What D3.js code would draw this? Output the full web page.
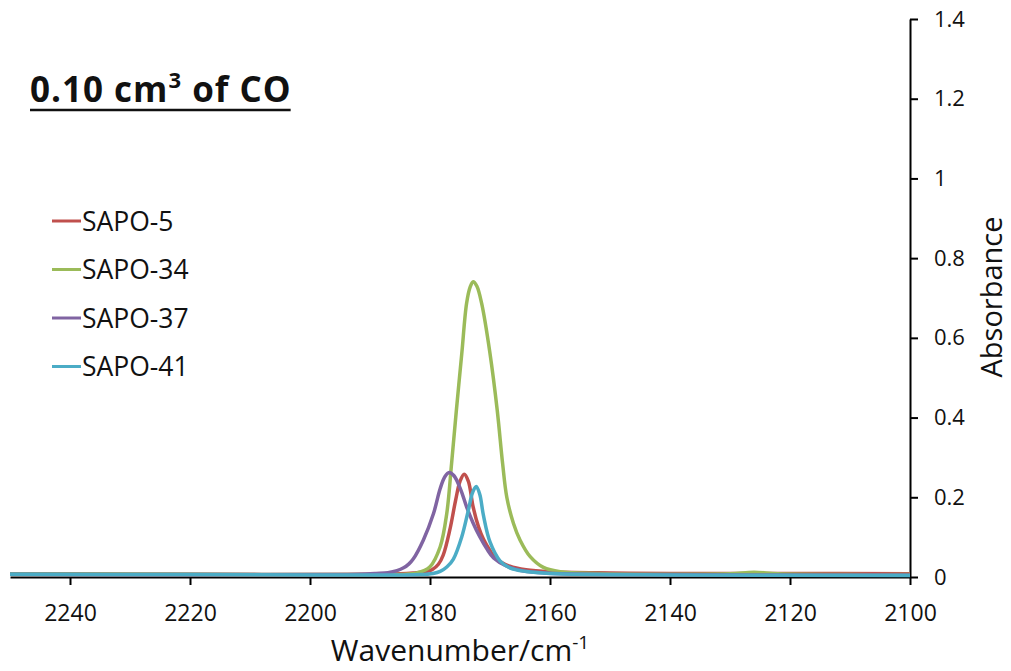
<!DOCTYPE html>
<html>
<head>
<meta charset="utf-8">
<script src="https://cdn.jsdelivr.net/npm/d3@7"></script>
<style>
  html, body { margin: 0; padding: 0; background: #fff; }
  svg { display: block; font-family: "Open Sans", sans-serif; }
</style>
</head>
<body>
<div id="chart"></div>
<script>
const WIDTH = 1011;
const HEIGHT = 671;

// series: [wavenumber, absorbance]
const SAPO_5 = [
  [2250, 0.008], [2230, 0.007], [2210, 0.006], [2195, 0.006], [2188, 0.007],
  [2185, 0.008], [2182.8, 0.010], [2180.8, 0.013], [2179.6, 0.019], [2178.6, 0.032],
  [2177.8, 0.055], [2176.7, 0.118], [2175.7, 0.195], [2175.0, 0.240], [2174.3, 0.258],
  [2173.6, 0.240], [2172.8, 0.175], [2171.9, 0.125], [2171.1, 0.095], [2169.9, 0.064],
  [2168.9, 0.045], [2166.7, 0.027], [2164, 0.018], [2160, 0.013], [2150, 0.010],
  [2140, 0.009], [2120, 0.009], [2100, 0.008]
];
const SAPO_34 = [
  [2250, 0.008], [2220, 0.007], [2200, 0.006], [2188, 0.006], [2184, 0.007],
  [2182.2, 0.010], [2180, 0.026], [2178.3, 0.076], [2177.2, 0.160], [2176.4, 0.285],
  [2175.6, 0.419], [2174.7, 0.561], [2173.9, 0.687], [2173.3, 0.728], [2172.8, 0.741],
  [2172.2, 0.730], [2171.4, 0.687], [2170, 0.561], [2168.8, 0.419], [2167.9, 0.285],
  [2167.2, 0.200], [2166.1, 0.135], [2165, 0.093], [2163.3, 0.051], [2161.1, 0.024],
  [2158.3, 0.013], [2151.7, 0.009], [2140, 0.007], [2130, 0.008], [2126, 0.012],
  [2122, 0.008], [2110, 0.006], [2100, 0.006]
];
const SAPO_37 = [
  [2250, 0.007], [2220, 0.006], [2200, 0.006], [2192, 0.007], [2189, 0.009],
  [2187, 0.011], [2185.5, 0.016], [2184.4, 0.023], [2183.5, 0.033], [2182.8, 0.045],
  [2181.1, 0.093], [2179.4, 0.160], [2178.3, 0.222], [2177.5, 0.252], [2176.8, 0.262],
  [2176.0, 0.254], [2174.9, 0.220], [2173.9, 0.176], [2172.8, 0.135], [2171.7, 0.101],
  [2170.5, 0.070], [2169.4, 0.048], [2167.2, 0.027], [2165, 0.017], [2162, 0.011],
  [2158, 0.008], [2140, 0.006], [2120, 0.005], [2100, 0.005]
];
const SAPO_41 = [
  [2250, 0.007], [2220, 0.006], [2200, 0.005], [2185, 0.005], [2181.7, 0.006],
  [2179.5, 0.009], [2178.3, 0.014], [2177.2, 0.025], [2176.1, 0.045], [2174.7, 0.101],
  [2173.6, 0.168], [2172.9, 0.212], [2172.3, 0.227], [2171.7, 0.207], [2171.1, 0.155],
  [2170, 0.088], [2168.3, 0.040], [2166.7, 0.023], [2164, 0.014], [2160, 0.009],
  [2140, 0.005], [2100, 0.004]
];

const SERIES_NAMES = ["SAPO-5", "SAPO-34", "SAPO-37", "SAPO-41"];
const SERIES_DATA = [SAPO_5, SAPO_34, SAPO_37, SAPO_41];
const SERIES_COLORS = ["#c0504d", "#9bbb59", "#8064a2", "#4bacc6"];
const X_TICKS = [2240, 2220, 2200, 2180, 2160, 2140, 2120, 2100];
const Y_TICKS = [0, 0.2, 0.4, 0.6, 0.8, 1, 1.2, 1.4];

const svg = d3.select("#chart").append("svg")
  .attr("width", WIDTH)
  .attr("height", HEIGHT);

const x = d3.scaleLinear().domain([2250, 2100]).range([10, 910]);
const y = d3.scaleLinear().domain([0, 1.4]).range([577, 19]);

// axes
const xAxis = svg.append("g")
  .attr("transform", `translate(0,${y(0)})`)
  .call(d3.axisBottom(x).tickValues(X_TICKS).tickSize(8).tickSizeOuter(0).tickPadding(20)
    .tickFormat(d3.format("d")));
const yAxis = svg.append("g")
  .attr("transform", `translate(${x(2100)},0)`)
  .call(d3.axisRight(y).tickValues(Y_TICKS).tickSize(8).tickSizeOuter(0).tickPadding(16)
    .tickFormat(d => String(+d.toFixed(1))));

[xAxis, yAxis].forEach(g => {
  g.selectAll(".domain").attr("stroke", "#000").attr("stroke-width", 2);
  g.selectAll(".tick line").attr("stroke", "#000").attr("stroke-width", 2);
  g.selectAll(".tick text").attr("fill", "#111").style("font-family", "Open Sans");
});
xAxis.selectAll(".tick text").style("font-size", "23px");
yAxis.selectAll(".tick text").style("font-size", "22px");

// lines
svg.append("clipPath").attr("id", "plot-clip")
  .append("rect").attr("x", x(2250)).attr("y", 0)
  .attr("width", x(2100) - x(2250)).attr("height", y(0) + 2);

const line = d3.line()
  .x(d => x(d[0]))
  .y(d => y(d[1]))
  .curve(d3.curveCatmullRom.alpha(0.5));

svg.append("g").attr("clip-path", "url(#plot-clip)")
  .selectAll("path")
  .data(SERIES_DATA)
  .join("path")
  .attr("d", d => line(d.slice().sort((a, b) => b[0] - a[0])))
  .attr("fill", "none")
  .attr("stroke", (d, i) => SERIES_COLORS[i])
  .attr("stroke-width", 3.5)
  .attr("stroke-linejoin", "round");

// legend
const legend = svg.append("g")
  .selectAll("g")
  .data(SERIES_NAMES)
  .join("g")
  .attr("transform", (d, i) => `translate(52,${221 + i * 48.5})`);
legend.append("line")
  .attr("x1", 0).attr("x2", 29)
  .attr("stroke", (d, i) => SERIES_COLORS[i])
  .attr("stroke-width", 3);
legend.append("text")
  .attr("x", 30).attr("dy", "0.36em")
  .style("font-size", "26.5px")
  .attr("fill", "#111")
  .text(d => d);

// title
const title = svg.append("text")
  .attr("x", 30).attr("y", 102)
  .style("font-size", "35px")
  .style("font-weight", "bold")
  .style("letter-spacing", "1px")
  .attr("fill", "#111");
title.append("tspan").text("0.10 cm");
title.append("tspan").attr("dy", -14).style("font-size", "22px").text("3");
title.append("tspan").attr("dy", 14).text(" of CO");
const tb = title.node().getBBox();
svg.append("line")
  .attr("x1", tb.x).attr("x2", tb.x + tb.width - 1)
  .attr("y1", 110).attr("y2", 110)
  .attr("stroke", "#111").attr("stroke-width", 2.5);

// axis titles
const xTitle = svg.append("text")
  .attr("x", 460).attr("y", 661)
  .attr("text-anchor", "middle")
  .style("font-size", "30px")
  .attr("fill", "#111");
xTitle.append("tspan").text("Wavenumber/cm");
xTitle.append("tspan").attr("dy", -12).style("font-size", "19px").text("-1");

svg.append("text")
  .attr("transform", "translate(1002,297) rotate(-90)")
  .attr("text-anchor", "middle")
  .style("font-size", "29px")
  .attr("fill", "#111")
  .text("Absorbance");
</script>
</body>
</html>
